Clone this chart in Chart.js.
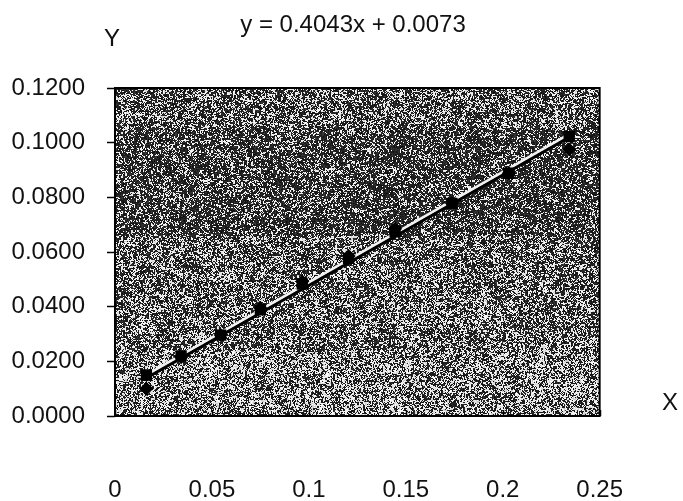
<!DOCTYPE html>
<html>
<head>
<meta charset="utf-8">
<script src="https://cdn.jsdelivr.net/npm/chart.js@4/dist/chart.umd.min.js"></script>
<style>
html,body{margin:0;padding:0;background:#fff;}
canvas{display:block;}
</style>
</head>
<body>
<canvas id="c" width="683" height="501"></canvas>
<script>
// ---- data ----
const xValues      = [0.0162, 0.0341, 0.0545, 0.0750, 0.0966, 0.1205, 0.1445, 0.1738, 0.2031, 0.2343];
const squareValues = [0.0150, 0.0220, 0.0296, 0.0388, 0.0483, 0.0577, 0.0674, 0.0778, 0.0888, 0.1022];
const diamondValues= [0.0100, 0.0215, 0.0296, 0.0395, 0.0492, 0.0585, 0.0685, 0.0778, 0.0888, 0.0975];
const trendX       = [0.0162, 0.2343];
const trendY       = [0.0139, 0.1020];
const xTickValues  = [0, 0.05, 0.1, 0.15, 0.2, 0.25];
const xTickLabels  = ['0', '0.05', '0.1', '0.15', '0.2', '0.25'];
const yTickValues  = [0, 0.02, 0.04, 0.06, 0.08, 0.10, 0.12];
const yTickLabels  = ['0.0000', '0.0200', '0.0400', '0.0600', '0.0800', '0.1000', '0.1200'];
const titleText    = 'y = 0.4043x + 0.0073';
const xAxisName    = 'X';
const yAxisName    = 'Y';

const FONT = '"Liberation Sans", Arial, sans-serif';

function pts(xs, ys){ return xs.map((x,i)=>({x:x, y:ys[i]})); }

function hash(x, y, seed){
  let h = Math.imul(x + seed, 374761393) ^ Math.imul(y + 3*seed + 7, 668265263);
  h = Math.imul(h ^ (h >>> 13), 1274126177);
  return ((h ^ (h >>> 16)) >>> 0) / 4294967296;
}

// grainy photocopy-like texture (deterministic, style only)
function makeTexture(ctx, w, h){
  const c = document.createElement('canvas');
  c.width = w; c.height = h;
  const g = c.getContext('2d');
  const img = g.createImageData(w, h);
  for (let y=0; y<h; y++){
    for (let x=0; x<w; x++){
      const fine = hash(x, y, 1);
      const coarse = hash(x>>1, y>>1, 5);
      const blob = hash(x>>3, y>>3, 9);
      const fy = y / h;
      let pDark = 0.56 + (fy > 0.12 && fy < 0.45 ? 0.08 : 0) - (fy > 0.8 ? 0.06 : 0);
      pDark += (blob - 0.5) * 0.12;
      const v = 0.55*fine + 0.45*coarse;
      const val = v < pDark ? 15 + Math.floor(fine*45) : 185 + Math.floor(fine*70);
      const i = (y*w + x)*4;
      img.data[i]=val; img.data[i+1]=val; img.data[i+2]=val; img.data[i+3]=255;
    }
  }
  g.putImageData(img, 0, 0);
  return c;
}

let texCache = null;
const decor = {
  id: 'decor',
  beforeDraw(chart){
    const {ctx, chartArea:a} = chart;
    const w = Math.round(a.right-a.left), h = Math.round(a.bottom-a.top);
    if (!texCache) texCache = makeTexture(ctx, w, h);
    ctx.save();
    ctx.fillStyle = '#ffffff';
    ctx.fillRect(0,0,chart.width,chart.height);
    ctx.drawImage(texCache, a.left, a.top);
    ctx.restore();
  },
  beforeDatasetDraw(chart, args){
    if (args.index === 3){
      chart.ctx.save();
      chart.ctx.translate(0, -3);
    }
  },
  afterDatasetDraw(chart, args){
    if (args.index === 3){
      chart.ctx.restore();
    }
  },
  afterDraw(chart){
    const {ctx, chartArea:a, scales} = chart;
    ctx.save();
    ctx.strokeStyle = '#000';
    ctx.lineWidth = 2;
    ctx.strokeRect(a.left, a.top, a.right-a.left, a.bottom-a.top);
    ctx.lineWidth = 1.5;
    xTickValues.forEach(v=>{
      const px = Math.round(scales.x.getPixelForValue(v)) + 0.5;
      ctx.beginPath();
      ctx.moveTo(px, a.bottom);
      ctx.lineTo(px, a.bottom - 6);
      ctx.stroke();
    });
    ctx.fillStyle = '#111';
    ctx.font = '24px ' + FONT;
    ctx.textAlign = 'center';
    ctx.textBaseline = 'middle';
    ctx.fillText(titleText, 353, 25);
    ctx.fillText(yAxisName, 112, 39);
    ctx.fillText(xAxisName, 670, 403);
    ctx.restore();
  }
};

new Chart(document.getElementById('c'), {
  type: 'scatter',
  data: {
    datasets: [
      { label: 'sq', data: pts(xValues, squareValues), pointStyle: 'rect', pointRadius: 8,
        backgroundColor: '#000', borderColor: '#000', borderWidth: 0, showLine: false },
      { label: 'dia', data: pts(xValues, diamondValues), pointStyle: 'rectRot', pointRadius: 7,
        backgroundColor: '#000', borderColor: '#000', borderWidth: 0, showLine: false },
      { label: 'trend', data: pts(trendX, trendY), showLine: true, pointRadius: 0,
        borderColor: '#000', borderWidth: 3 },
      { label: 'trendHi', data: pts(trendX, trendY), showLine: true, pointRadius: 0,
        borderColor: '#f2f2f2', borderWidth: 3 }
    ]
  },
  options: {
    responsive: false,
    animation: false,
    devicePixelRatio: 1,
    layout: { padding: { top: 88, right: 79, left: 0, bottom: 0 } },
    plugins: { legend: { display: false }, tooltip: { enabled: false }, title: { display: false } },
    scales: {
      x: {
        type: 'linear', min: 0, max: 0.25,
        afterFit(s){ s.height = 85; },
        afterBuildTicks(s){ s.ticks = xTickValues.map(v=>({value:v})); },
        ticks: {
          callback(v){ const i = xTickValues.findIndex(t=>Math.abs(t-v)<1e-9); return i>=0 ? xTickLabels[i] : ''; },
          color: '#111', font: { family: FONT, size: 24 }, padding: 60, maxRotation: 0, autoSkip: false
        },
        grid: { display: true, drawOnChartArea: false, drawTicks: false, color: '#000' },
        border: { display: false }
      },
      y: {
        type: 'linear', min: 0, max: 0.12,
        afterFit(s){ s.width = 115; },
        afterBuildTicks(s){ s.ticks = yTickValues.map(v=>({value:v})); },
        ticks: {
          callback(v){ const i = yTickValues.findIndex(t=>Math.abs(t-v)<1e-9); return i>=0 ? yTickLabels[i] : ''; },
          color: '#111', font: { family: FONT, size: 24 }, padding: 22
        },
        grid: { display: true, drawOnChartArea: false, drawTicks: true, tickLength: 8, color: '#000', tickWidth: 1.5 },
        border: { display: false }
      }
    }
  },
  plugins: [decor]
});
</script>
</body>
</html>
